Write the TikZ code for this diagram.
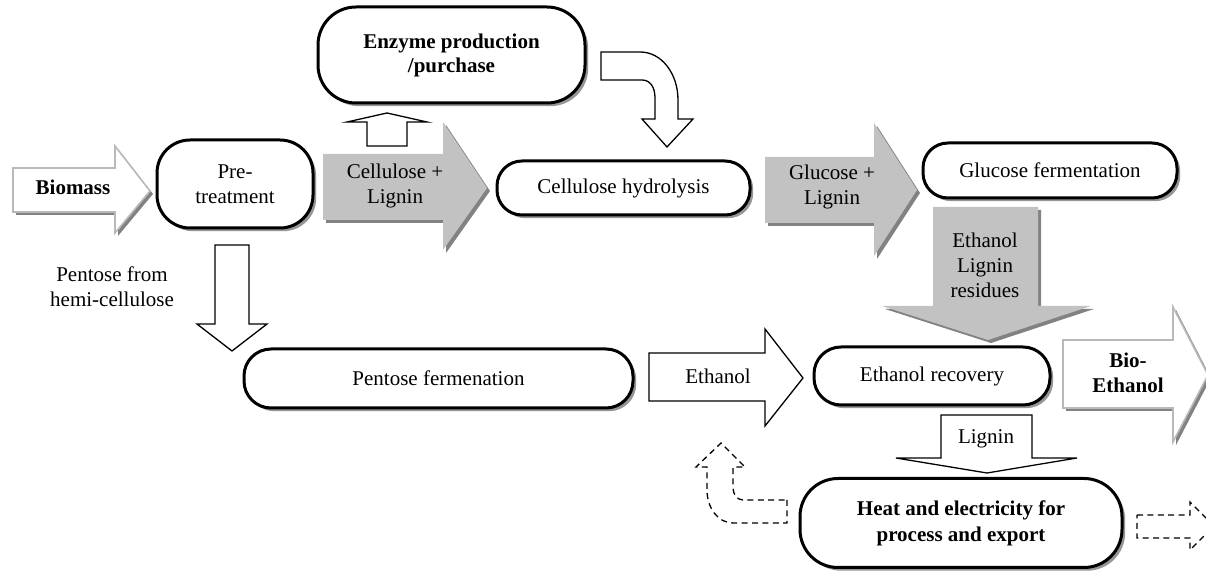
\documentclass[tikz,border=0pt]{standalone}
\usepackage{fontspec}
\setmainfont{Liberation Serif}
\usetikzlibrary{shadows}
\definecolor{agray}{RGB}{194,194,194}
\definecolor{sgray}{RGB}{130,130,130}
\definecolor{lgray}{RGB}{185,185,185}
\definecolor{bshadow}{RGB}{150,150,150}
\tikzset{
  txt/.style={font=\fontsize{10.5}{12.5}\selectfont, align=center, inner sep=0pt},
  box/.style={draw=black, line width=1.5pt, fill=white, txt,
    drop shadow={shadow xshift=1.6pt, shadow yshift=-1.6pt, opacity=1, fill=bshadow}},
  grayarrow/.style={fill=agray, draw=none},
  grayshadow/.style={fill=sgray, draw=none},
  whitearrow/.style={fill=white, draw=black, line width=0.65pt, line join=miter},
  lightarrow/.style={fill=white, draw=lgray, line width=0.8pt},
  dasharrow/.style={fill=white, draw=black, line width=0.65pt, dash pattern=on 3pt off 2.2pt},
}
\begin{document}
\begin{tikzpicture}[x=0.5pt, y=-0.5pt]
\useasboundingbox (0,0) rectangle (1206,571);
\clip (0,0) rectangle (1206,571);
\fill[white] (0,0) rectangle (1206,571);

% ---------- Biomass arrow (white, light border, gray shadow)
\fill[sgray, shift={(3,3)}] (13,168) -- (115,168) -- (115,146) -- (150,191) -- (115,233) -- (115,212) -- (13,212) -- cycle;
\draw[lightarrow] (13,168) -- (115,168) -- (115,146) -- (150,191) -- (115,233) -- (115,212) -- (13,212) -- cycle;
\node[txt, font=\fontsize{10.5}{12.5}\selectfont\bfseries] (bm) at (73,187) {Biomass};

% ---------- Cellulose + Lignin gray arrow
\fill[grayshadow, shift={(3,3)}] (323,154) -- (443,154) -- (443,122) -- (487,188) -- (443,250) -- (443,220) -- (323,220) -- cycle;
\fill[grayarrow] (323,154) -- (443,154) -- (443,122) -- (487,188) -- (443,250) -- (443,220) -- (323,220) -- cycle;
\node[txt] (cl) at (395,185.5) {Cellulose +\\Lignin};

% ---------- small up arrow to enzyme box
\draw[whitearrow] (367,146) -- (367,122) -- (347,122) -- (387,113) -- (427,122) -- (407,122) -- (407,146) -- cycle;

% ---------- curved arrow enzyme -> hydrolysis
\draw[whitearrow] (601,52) -- (640,52) .. controls (662,52) and (678,74) .. (678,100) -- (678,119) -- (693,119) -- (667,147) -- (642,119) -- (655,119) -- (655,98) .. controls (655,87) and (650,80) .. (642,80) -- (601,80) -- cycle;

% ---------- Glucose + Lignin gray arrow
\fill[grayshadow, shift={(3,3)}] (765,157) -- (874,157) -- (874,123) -- (917,190) -- (874,256) -- (874,223) -- (765,223) -- cycle;
\fill[grayarrow] (765,157) -- (874,157) -- (874,123) -- (917,190) -- (874,256) -- (874,223) -- (765,223) -- cycle;
\node[txt] (gl) at (832,187) {Glucose +\\Lignin};

% ---------- Ethanol / Lignin / residues gray down arrow
\fill[grayshadow, shift={(3,3)}] (933,207) -- (1038,207) -- (1038,306) -- (1091,306) -- (988,340) -- (882,306) -- (933,306) -- cycle;
\fill[grayarrow] (933,207) -- (1038,207) -- (1038,306) -- (1091,306) -- (988,340) -- (882,306) -- (933,306) -- cycle;
\node[txt] (elr) at (985,265) {Ethanol\\Lignin\\residues};

% ---------- Pentose down arrow
\draw[whitearrow] (215,245) -- (249,245) -- (249,324) -- (267,324) -- (232,351) -- (197,324) -- (215,324) -- cycle;
\node[txt] (pfh) at (112,286.5) {Pentose from\\hemi-cellulose};

% ---------- Ethanol arrow
\draw[whitearrow] (649,353) -- (765,353) -- (765,329) -- (803,378) -- (765,426) -- (765,401) -- (649,401) -- cycle;
\node[txt] (eth) at (718,376) {Ethanol};

% ---------- Bio-Ethanol arrow
\fill[sgray, shift={(3,3)}] (1063,340) -- (1173,340) -- (1173,307) -- (1208,375) -- (1173,442) -- (1173,408) -- (1063,408) -- cycle;
\draw[lightarrow] (1063,340) -- (1173,340) -- (1173,307) -- (1208,375) -- (1173,442) -- (1173,408) -- (1063,408) -- cycle;
\node[txt, font=\fontsize{10.5}{12.5}\selectfont\bfseries] (bio) at (1128,372.5) {Bio-\\Ethanol};

% ---------- Lignin down arrow
\draw[whitearrow] (941,415) -- (1032,415) -- (1032,458) -- (1077,458) -- (987,473) -- (896,458) -- (941,458) -- cycle;
\node[txt] (lig) at (986,439) {Lignin};

% ---------- dashed arrows
\draw[dasharrow] (787,500) -- (787,523) -- (733,523) .. controls (718,523) and (707,508) .. (707,490) -- (707,467) -- (696,467) -- (721,443) -- (745,467) -- (733,467) -- (733,488) .. controls (733,494) and (737,500) .. (743,500) -- cycle;
\draw[dasharrow] (1137,515) -- (1190,515) -- (1190,502) -- (1214,526) -- (1190,550) -- (1190,538) -- (1137,538) -- cycle;

% ---------- process boxes
\node[box, minimum width=78pt, minimum height=44pt, rounded corners=16.5pt] (pre) at (235,184) {Pre-\\treatment};
\node[box, minimum width=133.5pt, minimum height=48pt, rounded corners=19pt, font=\fontsize{10.5}{12}\selectfont\bfseries] (enz) at (451.5,55) {Enzyme production\\/purchase};
\node[box, minimum width=126.5pt, minimum height=27pt, rounded corners=12.5pt] (hyd) at (623.5,188) {Cellulose hydrolysis};
\node[box, minimum width=127pt, minimum height=27.5pt, rounded corners=12.5pt] (gferm) at (1050,170.5) {Glucose fermentation};
\node[box, minimum width=194.5pt, minimum height=29.5pt, rounded corners=13.5pt] (pferm) at (438.5,378.5) {Pentose fermenation};
\node[box, minimum width=118pt, minimum height=29pt, rounded corners=13.5pt] (rec) at (932,376) {Ethanol recovery};
\node[box, minimum width=161pt, minimum height=44.5pt, rounded corners=19pt, font=\fontsize{10.5}{13}\selectfont\bfseries] (heat) at (961,523) {Heat and electricity for\\process and export};
\end{tikzpicture}
\end{document}
